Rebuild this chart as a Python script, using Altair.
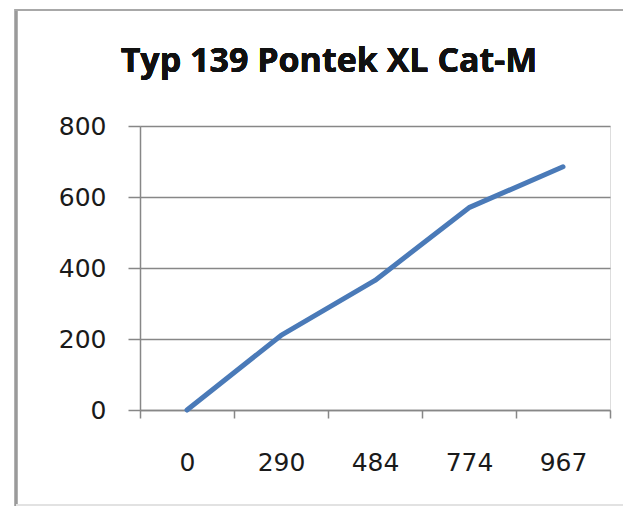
import altair as alt
import pandas as pd

categories = ["0", "290", "484", "774", "967"]
values = [0, 210, 365, 570, 685]
title_text = "Typ 139 Pontek XL Cat-M"

df = pd.DataFrame({"cat": categories, "val": values})

FONT = "DejaVu Sans"
TFONT = "Open Sans"
GRID = "#878787"

line = alt.Chart(df).mark_line(color="#4a7ab8", strokeWidth=5, strokeCap="round", strokeJoin="round").encode(
    x=alt.X("cat:N", sort=categories, title=None,
            scale=alt.Scale(paddingInner=0, paddingOuter=0),
            axis=alt.Axis(labelAngle=0, tickBand="extent", tickSize=8, tickColor=GRID,
                          tickWidth=1.5, domainColor=GRID, domainWidth=1.5,
                          labelFont=FONT, labelFontSize=25, labelColor="#1a1a1a",
                          labelPadding=32, grid=False)),
    y=alt.Y("val:Q", title=None,
            scale=alt.Scale(domain=[0, 800]),
            axis=alt.Axis(values=[0, 200, 400, 600, 800], tickSize=12, tickColor=GRID,
                          tickWidth=1.5, domainColor=GRID, domainWidth=1.5,
                          gridColor=GRID, gridWidth=1.5, grid=True,
                          labelFont=FONT, labelFontSize=25, labelColor="#1a1a1a",
                          labelPadding=22)),
)

title = alt.Chart(df).mark_text(font=TFONT, fontSize=34, fontWeight="bold", color="#111111",
                                align="center", baseline="alphabetic").encode(
    x=alt.value(189), y=alt.value(-54), text=alt.value(title_text)
)

left_edge = alt.Chart(df).mark_rule(color="#9a9a9a", strokeWidth=2.5).encode(
    x=alt.value(-124), y=alt.value(-117), y2=alt.value(380)
)
top_edge = alt.Chart(df).mark_rule(color="#a8a8a8", strokeWidth=2).encode(
    x=alt.value(-125), x2=alt.value(500), y=alt.value(-116)
)
bottom_edge = alt.Chart(df).mark_rule(color="#e2e2e2", strokeWidth=2).encode(
    x=alt.value(-124), x2=alt.value(500), y=alt.value(379)
)

chart = alt.layer(left_edge, top_edge, bottom_edge, line, title).properties(
    width=470,
    height=284,
    padding={"left": 132, "top": 118, "right": 13, "bottom": 97},
    autosize=alt.AutoSizeParams(type="none"),
).configure_view(stroke=None).configure(background="white")

chart.save("out.html", embed_options={"renderer": "svg", "actions": False})
